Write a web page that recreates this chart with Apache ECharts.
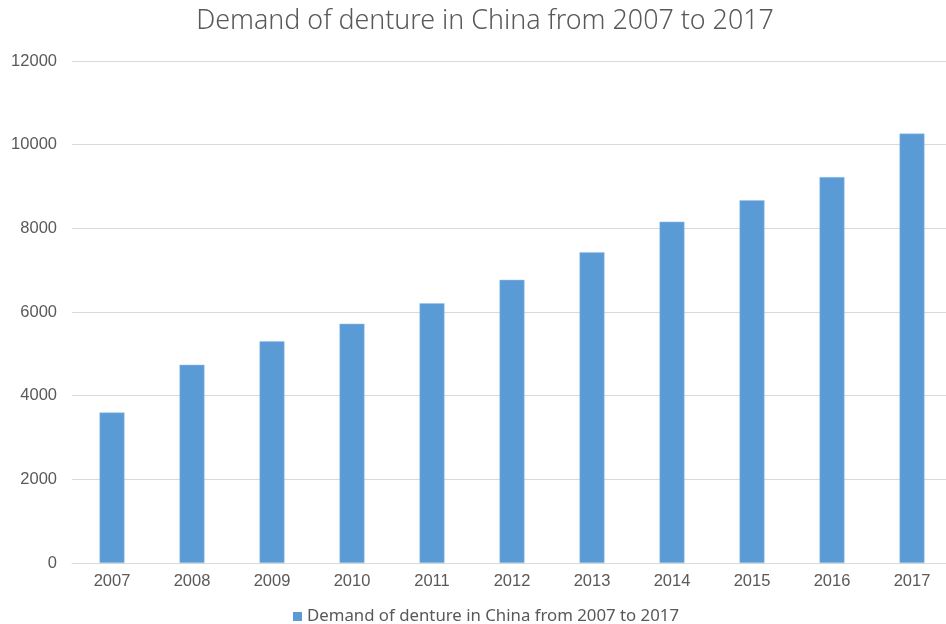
<!DOCTYPE html>
<html>
<head>
<meta charset="utf-8">
<script src="https://cdn.jsdelivr.net/npm/echarts@6/dist/echarts.min.js"></script>
<style>html,body{margin:0;padding:0;background:#fff;}#c{width:946px;height:624px;}</style>
</head>
<body>
<div id="c"></div>
<script>
const titleText = 'Demand of denture in China from 2007 to 2017';
const seriesName = 'Demand of denture in China from 2007 to 2017';
const categories = ['2007','2008','2009','2010','2011','2012','2013','2014','2015','2016','2017'];
const values = [3600, 4740, 5300, 5720, 6210, 6770, 7430, 8160, 8670, 9225, 10265];

const chart = echarts.init(document.getElementById('c'));
chart.setOption({
  animation: false,
  backgroundColor: '#ffffff',
  title: {
    text: titleText,
    left: 480,
    textAlign: 'center',
    top: 3,
    textStyle: { fontFamily: 'Noto Sans', fontWeight: 300, fontSize: 26.8, color: '#595959' }
  },
  legend: {
    bottom: -6,
    left: 288,
    itemWidth: 9,
    itemHeight: 9,
    icon: 'rect',
    itemGap: 5,
    itemStyle: { borderWidth: 0 },
    textStyle: { fontFamily: 'Noto Sans', fontSize: 16.8, color: '#595959' },
    data: [seriesName]
  },
  grid: { left: 72, width: 880, top: 61, bottom: 61, containLabel: false, outerBoundsMode: 'none' },
  xAxis: {
    type: 'category',
    data: categories,
    axisLine: { show: true, lineStyle: { color: '#d9d9d9', width: 1 } },
    axisTick: { show: false },
    axisLabel: { fontFamily: 'Liberation Sans', fontSize: 16.5, color: '#595959', margin: 10 }
  },
  yAxis: {
    type: 'value',
    min: 0,
    max: 12000,
    interval: 2000,
    axisLine: { show: false },
    axisTick: { show: false },
    splitLine: { lineStyle: { color: '#d9d9d9', width: 1 } },
    axisLabel: { fontFamily: 'Liberation Sans', fontSize: 16.5, color: '#595959', margin: 15,
      formatter: function (v) { return String(v); } }
  },
  series: [{
    name: seriesName,
    type: 'bar',
    data: values,
    barWidth: 25,
    itemStyle: { color: '#5B9BD5', borderColor: '#9dc3e6', borderWidth: 0.5 }
  }]
});
</script>
</body>
</html>
